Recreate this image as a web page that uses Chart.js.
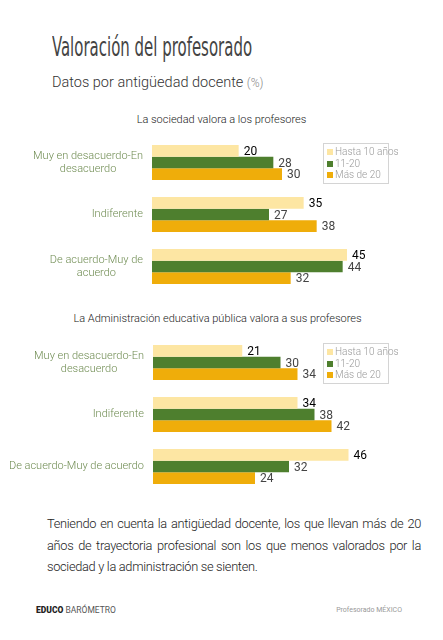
<!DOCTYPE html>
<html>
<head>
<meta charset="utf-8">
<script src="https://cdn.jsdelivr.net/npm/chart.js@4.4.0/dist/chart.umd.min.js"></script>
<style>
  body { margin:0; width:443px; height:640px; background:#fff; position:relative; overflow:hidden; font-family:Roboto, sans-serif; }
  .abs { position:absolute; }
  #title { left:52px; top:34px; font-family:"DejaVu Sans Condensed",sans-serif; font-size:26px; line-height:26px; color:#444; white-space:nowrap; transform-origin:left top; transform:scaleX(0.64); }
  #sub { left:52px; top:74px; font-size:14.5px; font-weight:300; color:#333; }
  #sub span { font-size:12px; color:#888; }
  .ctitle { left:0; width:443px; text-align:center; font-size:11px; font-weight:300; color:#222; }
  .chartbox { left:0; width:443px; height:170px; }
  .legend { border:1px solid #d4d4d4; font-size:10px; font-weight:300; color:#999; padding:2px 3px; line-height:11.5px; width:58px; white-space:nowrap; }
  .legend i { display:inline-block; width:6px; height:6px; margin-right:2px; vertical-align:0px; }
  #txt { left:47px; top:513px; width:374px; font-size:12.8px; letter-spacing:-0.3px; line-height:21.5px; text-align:justify; color:#222; font-weight:300; }
  #foot1 { left:36px; top:605px; font-size:8.5px; color:#222; }
  #foot1 b { font-weight:900; }
  #foot1 span { color:#555; }
  #foot2 { right:41px; top:606px; font-size:7px; color:#999; }
</style>
</head>
<body>
<div id="title" class="abs">Valoración del profesorado</div>
<div id="sub" class="abs">Datos por antigüedad docente <span>(%)</span></div>

<div class="abs ctitle" style="top:113px">La sociedad valora a los profesores</div>
<div class="abs chartbox" style="top:130px"><canvas id="c1"></canvas></div>
<div class="abs legend" id="lg1" style="left:323px; top:143px"></div>

<div class="abs ctitle" style="top:312px; left:-4px">La Administración educativa pública valora a sus profesores</div>
<div class="abs chartbox" style="top:330px"><canvas id="c2"></canvas></div>
<div class="abs legend" id="lg2" style="left:323px; top:343px"></div>

<div id="txt" class="abs">Teniendo en cuenta la antigüedad docente, los que llevan más de 20 años de trayectoria profesional son los que menos valorados por la sociedad y la administración se sienten.</div>
<div id="foot1" class="abs"><b>EDUCO</b> <span>BARÓMETRO</span></div>
<div id="foot2" class="abs">Profesorado MÉXICO</div>

<script>
var categorias1 = [["Muy en desacuerdo-En","desacuerdo"], "Indiferente", ["De acuerdo-Muy de","acuerdo"]];
var categorias2 = [["Muy en desacuerdo-En","desacuerdo"], "Indiferente", "De acuerdo-Muy de acuerdo"];
var series = ["Hasta 10 años", "11-20", "Más de 20"];
var colores = ["#FDE6A3", "#4E7F2E", "#EFAD0A"];
// La sociedad valora a los profesores
var sociedad_hasta10 = [20, 35, 45];
var sociedad_11a20 = [28, 27, 44];
var sociedad_mas20 = [30, 38, 32];
// La Administración educativa pública valora a sus profesores
var admin_hasta10 = [21, 34, 46];
var admin_11a20 = [30, 38, 32];
var admin_mas20 = [34, 42, 24];

// etiquetas de valor al final de cada barra
var etiquetas = {
  id: 'etiquetas',
  afterDatasetsDraw: function(chart){
    var ctx = chart.ctx;
    ctx.save();
    chart.data.datasets.forEach(function(ds, i){
      var meta = chart.getDatasetMeta(i);
      meta.data.forEach(function(bar, j){
        ctx.font = '400 12px Roboto';
        ctx.fillStyle = i == 0 ? '#000' : '#444';
        ctx.textBaseline = 'middle';
        ctx.textAlign = 'left';
        ctx.fillText(ds.data[j], bar.x + 5, bar.y + 1);
      });
    });
    // categorias: lineas centradas entre si, bloque alineado a la derecha
    var sc = chart.scales.y;
    ctx.font = '300 11px Roboto';
    ctx.fillStyle = '#6F8C52';
    ctx.textAlign = 'center';
    ctx.textBaseline = 'middle';
    chart.data.labels.forEach(function(lab, j){
      var lineas = Array.isArray(lab) ? lab : [lab];
      var w = Math.max.apply(null, lineas.map(function(l){ return ctx.measureText(l).width; }));
      var cx = sc.right - 9 - w / 2;
      var cy = sc.getPixelForValue(j);
      lineas.forEach(function(l, k){
        ctx.fillText(l, cx, cy + (k - (lineas.length - 1) / 2) * 12.5);
      });
    });
    ctx.restore();
  }
};

function grafica(id, labels, d1, d2, d3, padRight, left){
  var datos = [d1, d2, d3];
  return new Chart(document.getElementById(id), {
    type: 'bar',
    data: {
      labels: labels,
      datasets: series.map(function(s, i){
        return { label: s, data: datos[i], backgroundColor: colores[i], barPercentage: 1, categoryPercentage: 0.673 };
      })
    },
    options: {
      indexAxis: 'y',
      responsive: true,
      maintainAspectRatio: false,
      animation: false,
      layout: { padding: { top: 6.5, bottom: 7.5, right: padRight, left: 0 } },
      plugins: { legend: { display: false }, tooltip: { enabled: false } },
      scales: {
        x: { display: false, min: 0, max: 60 },
        y: {
          grid: { display: false },
          border: { display: false },
          ticks: { display: false },
          afterFit: function(s){ s.width = left; }
        }
      }
    },
    plugins: [etiquetas]
  });
}

grafica('c1', categorias1, sociedad_hasta10, sociedad_11a20, sociedad_mas20, 31, 152);
grafica('c2', categorias2, admin_hasta10, admin_11a20, admin_mas20, 35, 153);

['lg1','lg2'].forEach(function(id){
  document.getElementById(id).innerHTML = series.map(function(s, i){
    return '<div><i style="background:' + colores[i] + '"></i>' + s + '</div>';
  }).join('');
});
</script>
</body>
</html>
